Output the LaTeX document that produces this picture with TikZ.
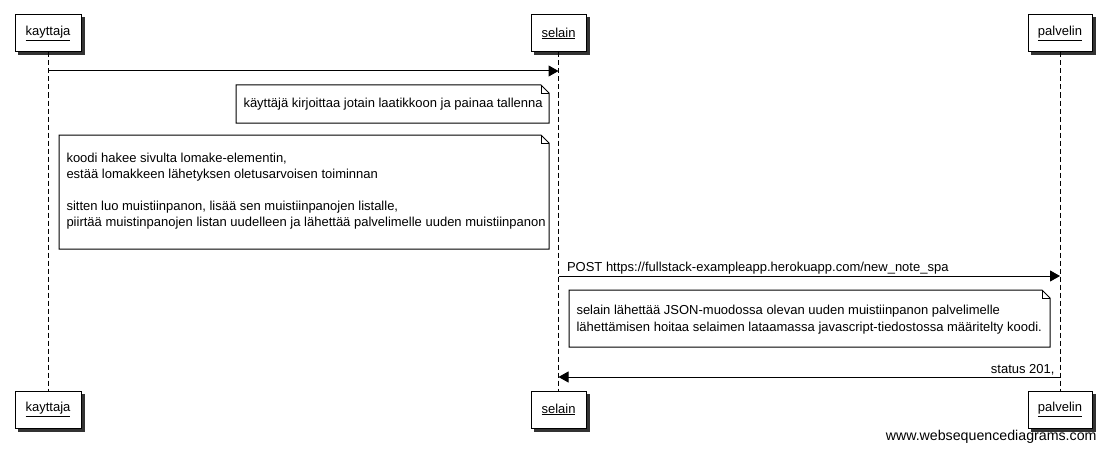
\documentclass[tikz,border=0pt]{standalone}
\usepackage{fontspec}
\setmainfont{Liberation Sans}
\usetikzlibrary{arrows.meta,backgrounds}
\newcommand{\fold}[1]{%
	\draw[fill=white] (#1.north west) -- ([xshift=-8pt]#1.north east) -- ([yshift=-8pt]#1.north east) -- (#1.south east) -- (#1.south west) -- cycle;
	\draw ([xshift=-8pt]#1.north east) |- ([yshift=-8pt]#1.north east);}
\newcommand{\boxshadow}[1]{%
	\fill[black!80] ([shift={(3pt,-3pt)}]#1.south west) rectangle ([shift={(3pt,-3pt)}]#1.north east);}
\begin{document}
\begin{tikzpicture}[x=1pt,y=-1pt,line width=1pt,>={Triangle[length=10pt,width=11pt]},
	actor/.style={draw,fill=white,minimum width=#1,minimum height=37pt,inner sep=0pt,font=\fontsize{13pt}{16pt}\selectfont},
	life/.style={dash pattern=on 5pt off 3pt},
	msg/.style={->},
	note/.style={align=left,inner xsep=7pt,inner ysep=0pt,anchor=north west},
	lbl/.style={font=\fontsize{13pt}{16pt}\selectfont,inner sep=0pt}]
	\useasboundingbox (0,0) rectangle (1106,452);
	% osallistujat
	\node[actor=66pt] (k1) at (48,33.5) {\underline{kayttaja}};
	\node[actor=55pt] (s1) at (558.5,33.5) {\underline{selain}};
	\node[actor=64pt] (p1) at (1060,33.5) {\underline{palvelin}};
	\node[actor=66pt] (k2) at (48,409.5) {\underline{kayttaja}};
	\node[actor=55pt] (s2) at (558.5,409.5) {\underline{selain}};
	\node[actor=64pt] (p2) at (1060,409.5) {\underline{palvelin}};
	\begin{scope}[on background layer]
	\fill[white] (0,0) rectangle (1106,452);
	\boxshadow{k1} \boxshadow{s1} \boxshadow{p1}
	\boxshadow{k2} \boxshadow{s2} \boxshadow{p2}
	\draw[life] (k1) -- (k2);
	\draw[life] (s1) -- (s2);
	\draw[life] (p1) -- (p2);
	\end{scope}
	\coordinate (y1) at (0,71);
	\coordinate (y2) at (0,276);
	\coordinate (y3) at (0,377);
	% viestit ja muistiinpanot
	\draw[msg] (k1 |- y1) -- (s1 |- y1);
	\node[note,minimum width=312pt,minimum height=37pt,text width=298pt] (n1) at (236,85) {};
	\fold{n1}
	\node[lbl,anchor=west] (t1) at ([xshift=7pt]n1.west) {käyttäjä kirjoittaa jotain laatikkoon ja painaa tallenna};
	\node[note,minimum width=489pt,minimum height=113pt,text width=475pt] (n2) at (59,135) {};
	\fold{n2}
	\node[lbl,anchor=west,align=left] (t2) at ([shift={(7pt,1pt)}]n2.west) {koodi hakee sivulta lomake-elementin,\\
		estää lomakkeen lähetyksen oletusarvoisen toiminnan\\[16pt]
		sitten luo muistiinpanon, lisää sen muistiinpanojen listalle,\\
		piirtää muistinpanojen listan uudelleen ja lähettää palvelimelle uuden muistiinpanon};
	\draw[msg] (s1 |- y2) -- (p1 |- y2) node[lbl,pos=0,anchor=south west,yshift=1pt,xshift=8pt] (m2) {POST https://fullstack-exampleapp.herokuapp.com/new\_note\_spa};
	\node[note,minimum width=480pt,minimum height=56pt,text width=466pt] (n3) at (569,290) {};
	\fold{n3}
	\node[lbl,anchor=west,align=left,font=\fontsize{13pt}{17pt}\selectfont] (t3) at ([shift={(7pt,-1.5pt)}]n3.west) {selain lähettää JSON-muodossa olevan uuden muistiinpanon palvelimelle\\
		lähettämisen hoitaa selaimen lataamassa javascript-tiedostossa määritelty koodi.};
	\draw[msg] (p1 |- y3) -- (s1 |- y3) node[lbl,pos=0,anchor=south east,yshift=1pt,xshift=-5pt] (m3) {status 201,};
	\node[lbl,anchor=south east,font=\fontsize{14.2pt}{16pt}\selectfont] (wsd) at (1097,444) {www.websequencediagrams.com};
\end{tikzpicture}
\end{document}
